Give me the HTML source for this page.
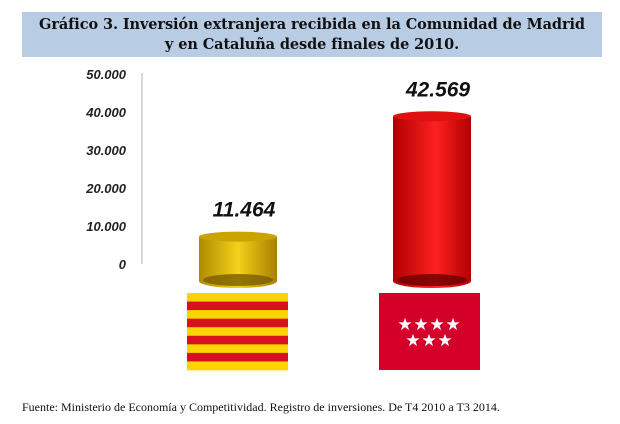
<!DOCTYPE html>
<html><head><meta charset="utf-8"><style>
body{margin:0;width:620px;height:424px;background:#fff;overflow:hidden;font-family:"Liberation Sans",sans-serif}
#title{position:absolute;left:22px;top:12px;width:580px;height:45px;background:#b8cce4;text-align:center;font:bold 14.5px/20px "DejaVu Serif",serif;color:#111;padding-top:3px;box-sizing:border-box;letter-spacing:-0.1px}
#foot{position:absolute;left:22px;top:400px;font:12px "Liberation Serif",serif;color:#111}
</style></head><body>
<div id="title">Gráfico 3. Inversión extranjera recibida en la Comunidad de Madrid<br>y en Cataluña desde finales de 2010.</div>
<svg id="c" width="620" height="424" style="position:absolute;left:0;top:0">
<defs>
<linearGradient id="gy" x1="0" x2="1"><stop offset="0" stop-color="#b08a00"/><stop offset="0.5" stop-color="#f2d21a"/><stop offset="1" stop-color="#a88000"/></linearGradient>
<linearGradient id="gr" x1="0" x2="1"><stop offset="0" stop-color="#b00000"/><stop offset="0.55" stop-color="#ff2020"/><stop offset="1" stop-color="#b00000"/></linearGradient>
</defs>
</svg>
<div id="foot">Fuente: Ministerio de Economía y Competitividad. Registro de inversiones. De T4 2010 a T3 2014.</div>
<script>
const categories=["Cataluña","Madrid"];
const values=[11464,42569];
const valueLabels=["11.464","42.569"];
const ticks=[0,10000,20000,30000,40000,50000];
const tickLabels=["0","10.000","20.000","30.000","40.000","50.000"];
const svg=document.getElementById('c');
const NS="http://www.w3.org/2000/svg";
function mk(t,a){const e=document.createElementNS(NS,t);for(const k in a)e.setAttribute(k,a[k]);svg.appendChild(e);return e;}
function yAxis(v){return 264-v*190/50000;}
function yBar(v){return 281-v*3.87/1000;}
function xBar(i){return 199+i*194;}
const ax=mk('line',{x1:142,x2:142,y1:73,y2:264,stroke:'#bbb','stroke-width':1.2});


ticks.forEach((t,i)=>{
  const e=mk('text',{x:126,y:yAxis(t)+5,'text-anchor':'end','font-size':13,'font-style':'italic','font-weight':'bold',fill:'#222'});
  e.textContent=tickLabels[i];
  
  
});
const colors=[["url(#gy)","#c9a400","#7a5c00"],["url(#gr)","#e01010","#6a0000"]];
values.forEach((v,i)=>{
  const x=xBar(i),w=78,top=yBar(v),bot=281;
  const g=document.createElementNS(NS,'g');svg.appendChild(g);
  
  
  const body=document.createElementNS(NS,'path');
  body.setAttribute('d',`M${x},${top} L${x},${bot} A${w/2},7 0 0 0 ${x+w},${bot} L${x+w},${top} Z`);
  body.setAttribute('fill',colors[i][0]);g.appendChild(body);
  const be=document.createElementNS(NS,'ellipse');
  be.setAttribute('cx',x+w/2);be.setAttribute('cy',bot-1);be.setAttribute('rx',w/2-4);be.setAttribute('ry',6);be.setAttribute('fill',colors[i][2]);be.setAttribute('opacity','0.8');g.appendChild(be);
  const te=document.createElementNS(NS,'ellipse');
  te.setAttribute('cx',x+w/2);te.setAttribute('cy',top);te.setAttribute('rx',w/2);te.setAttribute('ry',5);te.setAttribute('fill',colors[i][1]);g.appendChild(te);
  const t=mk('text',{x:x+w/2+6,y:top-20,'text-anchor':'middle','font-size':21,'font-style':'italic','font-weight':'bold',fill:'#111'});
  t.textContent=valueLabels[i];
  
  
});
const fg=document.createElementNS(NS,'g');svg.appendChild(fg);


for(let s=0;s<9;s++){const r=document.createElementNS(NS,'rect');r.setAttribute('x',187);r.setAttribute('y',293+s*77/9);r.setAttribute('width',101);r.setAttribute('height',77/9+0.3);r.setAttribute('fill',s%2?'#d8111e':'#fcd400');fg.appendChild(r);}
const mg=document.createElementNS(NS,'g');svg.appendChild(mg);


const mr=document.createElementNS(NS,'rect');mr.setAttribute('x',379);mr.setAttribute('y',293);mr.setAttribute('width',101);mr.setAttribute('height',77);mr.setAttribute('fill','#d5002a');mg.appendChild(mr);
[[405,324],[421,324],[437,324],[453,324],[413,340],[429,340],[445,340]].forEach(p=>{const s=document.createElementNS(NS,'text');s.setAttribute('x',p[0]);s.setAttribute('y',p[1]+6);s.setAttribute('text-anchor','middle');s.setAttribute('font-size',17);s.setAttribute('fill','#fff');s.setAttribute('font-family','DejaVu Sans');s.textContent='★';mg.appendChild(s);});
</script>
</body></html>
